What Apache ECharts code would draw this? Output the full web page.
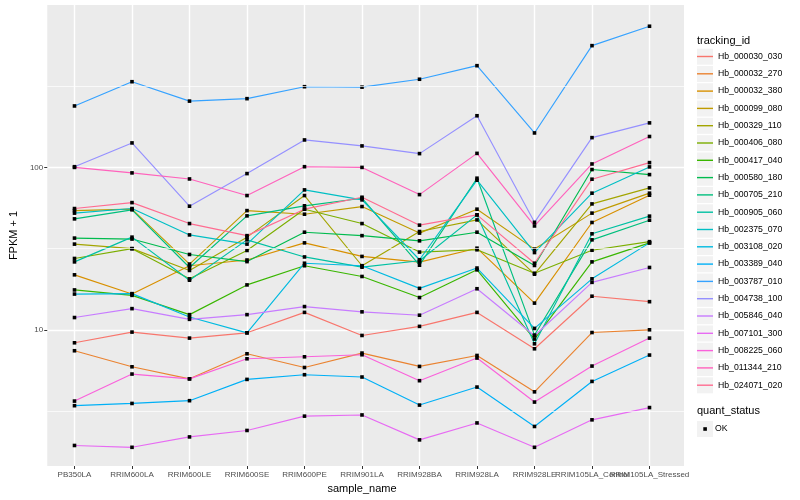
<!DOCTYPE html>
<html><head><meta charset="utf-8">
<script src="https://cdn.jsdelivr.net/npm/echarts@6/dist/echarts.min.js"></script>
<style>html,body{margin:0;padding:0;background:#fff}#c{width:800px;height:500px}</style>
</head><body><div id="c"></div>
<script>
// ---- data ----
const categories = ["PB350LA","RRIM600LA","RRIM600LE","RRIM600SE","RRIM600PE","RRIM901LA","RRIM928BA","RRIM928LA","RRIM928LE","RRIM105LA_Control","RRIM105LA_Stressed"];
const trackingIds = ["Hb_000030_030","Hb_000032_270","Hb_000032_380","Hb_000099_080","Hb_000329_110","Hb_000406_080","Hb_000417_040","Hb_000580_180","Hb_000705_210","Hb_000905_060","Hb_002375_070","Hb_003108_020","Hb_003389_040","Hb_003787_010","Hb_004738_100","Hb_005846_040","Hb_007101_300","Hb_008225_060","Hb_011344_210","Hb_024071_020"];
const colors = ["#F8766D","#EA8331","#D89000","#C09B00","#A3A500","#7CAE00","#39B600","#00BB4E","#00BF7D","#00C1A3","#00BFC4","#00BAE0","#00B0F6","#35A2FF","#9590FF","#C77CFF","#E76BF3","#FA62DB","#FF62BC","#FF6C91"];
const quantStatus = ["OK"];
const yTickLabels = [10, 100];
const yMinorBreaks = [3.162, 31.62, 316.2];

const hb_000030_030 = [8.32, 9.68, 8.89, 9.58, 12.8, 9.23, 10.5, 12.8, 7.64, 16.1, 14.9];
const hb_000032_270 = [7.43, 5.92, 4.99, 7.12, 5.86, 7.19, 5.95, 6.95, 4.15, 9.62, 10.0];
const hb_000032_380 = [21.8, 16.6, 24.8, 26.9, 34.3, 28.3, 26.1, 31.8, 14.6, 45.8, 67.4];
const hb_000099_080 = [54.2, 55.3, 25.4, 54.2, 51.5, 57.4, 39.4, 55.3, 31.4, 52.3, 69.4];
const hb_000329_110 = [33.7, 31.6, 23.2, 37.2, 67.1, 24.8, 40.3, 47.5, 22.0, 59.6, 74.8];
const hb_000406_080 = [27.5, 31.6, 20.6, 30.8, 55.3, 45.1, 30.1, 31.1, 22.3, 30.9, 34.9];
const hb_000417_040 = [17.6, 16.3, 12.4, 18.9, 24.8, 21.3, 15.8, 23.4, 8.77, 26.2, 34.3];
const hb_000580_180 = [36.7, 36.2, 29.1, 26.3, 39.9, 38.0, 35.3, 39.9, 24.9, 97.0, 90.3];
const hb_000705_210 = [48.2, 54.8, 24.2, 50.3, 58.0, 64.6, 25.0, 85.8, 9.28, 35.8, 47.3];
const hb_000905_060 = [26.2, 37.2, 20.2, 35.8, 28.1, 24.3, 26.6, 51.0, 8.2, 39.0, 50.1];
const hb_002375_070 = [52.3, 55.8, 38.4, 33.7, 72.7, 63.1, 27.0, 83.4, 29.9, 69.4, 100.7];
const hb_003108_020 = [16.6, 16.7, 12.0, 9.58, 25.7, 24.8, 18.0, 24.0, 10.2, 20.6, 34.3];
const hb_003389_040 = [3.41, 3.52, 3.66, 4.95, 5.29, 5.12, 3.44, 4.44, 2.54, 4.81, 6.99];
const hb_003787_010 = [239, 337, 256, 265, 314, 312, 349, 423, 163, 562, 740];
const hb_004738_100 = [101, 141.5, 57.7, 91.6, 147.6, 135.6, 121.6, 208, 45.9, 152.5, 188];
const hb_005846_040 = [11.9, 13.5, 11.6, 12.4, 13.9, 12.9, 12.3, 17.9, 9.19, 19.6, 24.2];
const hb_007101_300 = [1.94, 1.89, 2.19, 2.40, 2.94, 2.99, 2.10, 2.67, 1.89, 2.79, 3.32];
const hb_008225_060 = [3.64, 5.34, 4.99, 6.63, 6.82, 7.02, 4.86, 6.70, 3.59, 5.98, 8.89];
const hb_011344_210 = [100, 92.5, 84.9, 67.1, 101, 100, 68.0, 122, 43.6, 105, 155];
const hb_024071_020 = [55.8, 60.7, 45.1, 38.0, 55.3, 65.5, 44.1, 51.0, 25.7, 84.6, 107];

const seriesValues = [hb_000030_030, hb_000032_270, hb_000032_380, hb_000099_080, hb_000329_110, hb_000406_080, hb_000417_040, hb_000580_180, hb_000705_210, hb_000905_060, hb_002375_070, hb_003108_020, hb_003389_040, hb_003787_010, hb_004738_100, hb_005846_040, hb_007101_300, hb_008225_060, hb_011344_210, hb_024071_020];

// ---- layout ----
const FONT = '"Liberation Sans", Arial, Helvetica, sans-serif';
const panelLeft = 40, panelTop = 5, panelW = 644, panelH = 461;
const step = panelW / (categories.length - 1 + 1.2);
const dataLeft = panelLeft + 0.6 * step, dataW = (categories.length - 1) * step;
const yMin = 1.45, yMax = 1000;
const legTop = 48, legPitch = 17.3, legLeft = 697;

const chart = echarts.init(document.getElementById('c'), null, {renderer: 'canvas'});

const isTick = v => yTickLabels.some(t => Math.abs(t - v) < 1e-6 * t);

const lineSeries = trackingIds.map((id, i) => ({
  name: id, type: 'line', xAxisIndex: 1, yAxisIndex: 1, data: seriesValues[i],
  symbol: 'none', lineStyle: {color: colors[i], width: 1.15}, itemStyle: {color: colors[i]},
  z: 2, silent: true, animation: false
}));
const pointSeries = trackingIds.map((id, i) => ({
  name: id, type: 'line', xAxisIndex: 1, yAxisIndex: 1, data: seriesValues[i],
  symbol: 'rect', symbolSize: 3.6, showSymbol: true, showAllSymbol: true,
  lineStyle: {opacity: 0, width: 0}, itemStyle: {color: '#000'},
  z: 3, silent: true, animation: false
}));
const minorSeries = {
  type: 'line', xAxisIndex: 0, yAxisIndex: 0, data: [], silent: true, z: 1, animation: false,
  markLine: {silent: true, symbol: ['none', 'none'], label: {show: false}, animation: false,
    lineStyle: {color: '#ffffff', width: 0.71, type: 'solid'},
    emphasis: {disabled: true},
    data: yMinorBreaks.map(v => ({yAxis: v}))}
};
const okSeries = {name: quantStatus[0], type: 'line', xAxisIndex: 1, yAxisIndex: 1, data: [], symbol: 'rect', itemStyle: {color: '#000'}, silent: true};

const keyBoxes = trackingIds.map((id, i) => ({
  type: 'rect', z: -5, shape: {x: legLeft, y: legTop + i * legPitch + 0.65, width: 16, height: 16},
  style: {fill: '#F2F2F2'}, silent: true
}));
keyBoxes.push({type: 'rect', z: -5, shape: {x: legLeft, y: 421, width: 16, height: 16}, style: {fill: '#F2F2F2'}, silent: true});

const option = {
  animation: false,
  backgroundColor: '#ffffff',
  textStyle: {fontFamily: FONT},
  title: [
    {text: 'tracking_id', left: legLeft, top: 35, padding: 0, textStyle: {fontSize: 11, fontWeight: 'normal', color: '#000', fontFamily: FONT}},
    {text: 'quant_status', left: legLeft, top: 405.5, padding: 0, textStyle: {fontSize: 11, fontWeight: 'normal', color: '#000', fontFamily: FONT}}
  ],
  legend: [
    {orient: 'vertical', left: legLeft, top: legTop, padding: 0, itemWidth: 16, itemHeight: 1.4, itemGap: 0.3,
     icon: 'rect', selectedMode: false,
     data: trackingIds.map((id, i) => ({name: id, itemStyle: {color: colors[i]}})),
     textStyle: {fontSize: 8.7, color: '#000', fontFamily: FONT, lineHeight: 17}},
    {orient: 'vertical', left: 703.3, top: 420.5, padding: 0, itemWidth: 3.6, itemHeight: 3.6,
     icon: 'rect', selectedMode: false,
     data: [{name: quantStatus[0], itemStyle: {color: '#000'}}],
     textStyle: {fontSize: 8.7, color: '#000', fontFamily: FONT, lineHeight: 17, padding: [0, 0, 0, 3]}}
  ],
  graphic: keyBoxes,
  grid: [
    {left: panelLeft, top: panelTop, width: panelW, height: panelH, show: true, backgroundColor: '#EBEBEB', borderWidth: 0, containLabel: false},
    {left: dataLeft, top: panelTop, width: dataW, height: panelH, show: false, containLabel: false}
  ],
  xAxis: [
    {type: 'value', gridIndex: 0, min: 0, max: 1, show: false},
    {type: 'category', gridIndex: 1, data: categories, boundaryGap: false,
     axisLine: {show: false},
     axisTick: {show: true, length: 3, lineStyle: {color: '#333333', width: 1}},
     axisLabel: {fontSize: 8, color: '#4D4D4D', margin: 5, interval: 0, fontFamily: FONT},
     splitLine: {show: true, lineStyle: {color: '#ffffff', width: 1.42}},
     name: 'sample_name', nameLocation: 'middle', nameGap: 13,
     nameTextStyle: {fontSize: 11, color: '#000', fontFamily: FONT}}
  ],
  yAxis: [
    {type: 'log', logBase: 10, gridIndex: 0, min: yMin, max: yMax,
     axisLine: {show: false},
     axisTick: {show: true, length: 3, lineStyle: {color: '#333333', width: 1}},
     axisLabel: {fontSize: 8, color: '#4D4D4D', margin: 4, fontFamily: FONT,
       showMinLabel: false, showMaxLabel: false,
       formatter: v => (isTick(v) ? String(Math.round(v)) : '')},
     splitLine: {show: true, showMinLine: false, showMaxLine: false, lineStyle: {color: '#ffffff', width: 1.42}},
     name: 'FPKM + 1', nameLocation: 'middle', nameGap: 22,
     nameTextStyle: {fontSize: 11, color: '#000', fontFamily: FONT}},
    {type: 'log', logBase: 10, gridIndex: 1, min: yMin, max: yMax, show: false}
  ],
  series: [minorSeries].concat(lineSeries, pointSeries, [okSeries])
};
chart.setOption(option);
</script>
</body></html>
